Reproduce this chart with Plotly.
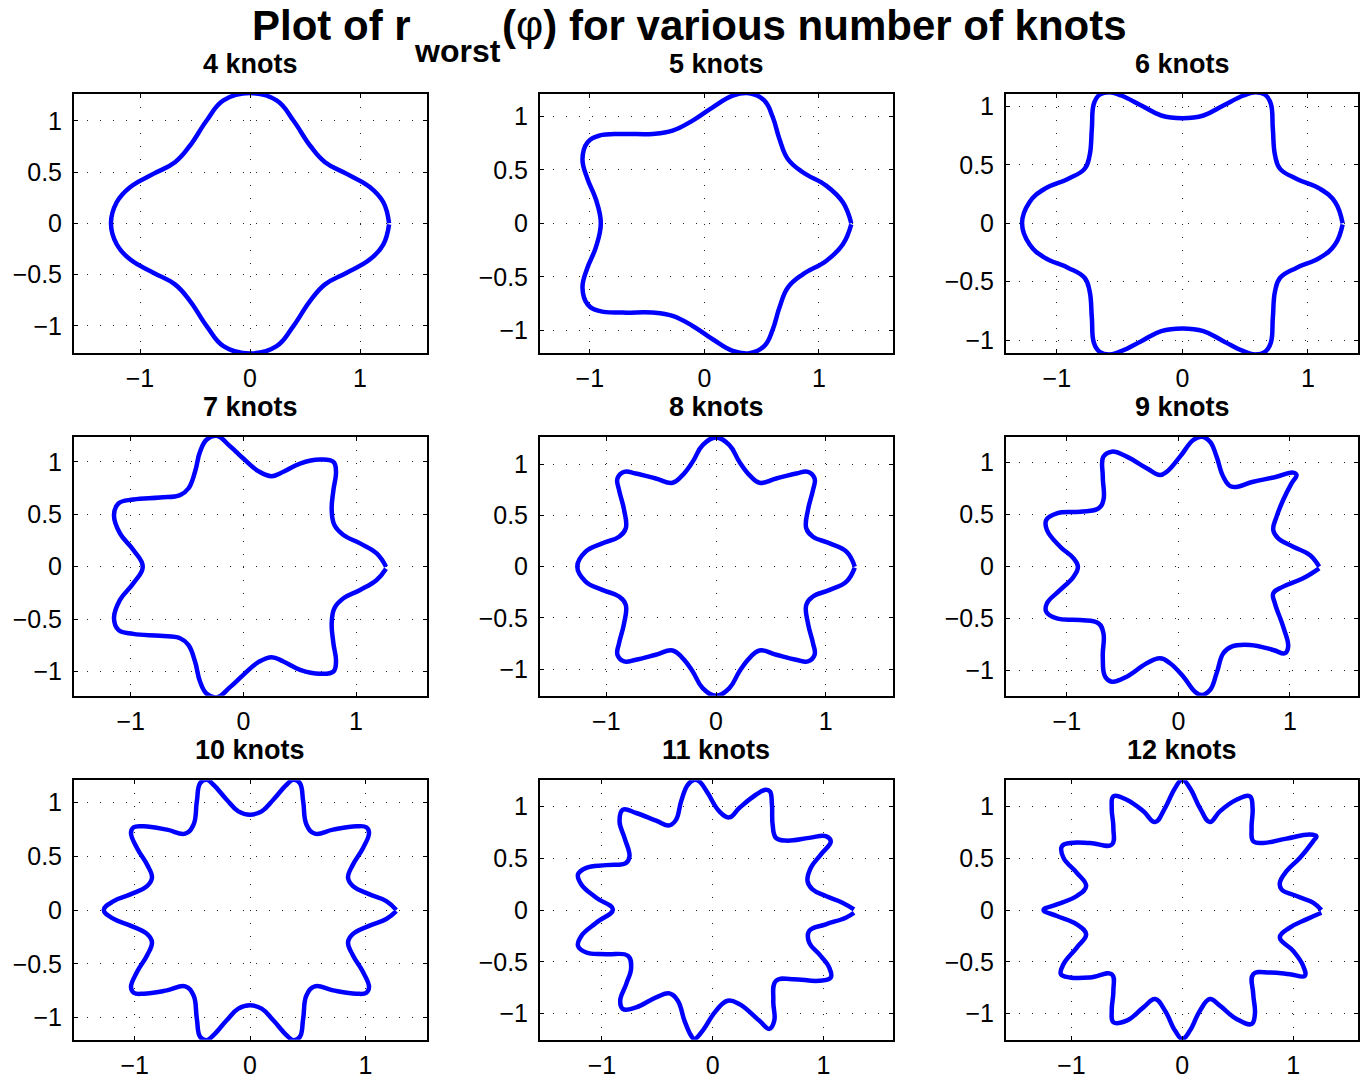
import plotly.graph_objects as go

FIG_W, FIG_H = 1368, 1082
FONT = "Liberation Sans, Arial, Helvetica, sans-serif"

# ---- traced r_worst(phi) curves, Cartesian samples going counter-clockwise ----
x4 = [1.264, 1.212, 1.091, 0.879, 0.682, 0.545, 0.394, 0.242, 0.0,
      -0.242, -0.394, -0.545, -0.682, -0.879, -1.091, -1.212, -1.264,
      -1.212, -1.091, -0.879, -0.682, -0.545, -0.394, -0.242, 0.0,
      0.242, 0.394, 0.545, 0.682, 0.879, 1.091, 1.212, 1.264]
y4 = [0.0, 0.205, 0.352, 0.482, 0.596, 0.759, 1.003, 1.199, 1.27,
      1.199, 1.003, 0.759, 0.596, 0.482, 0.352, 0.205, 0.0,
      -0.205, -0.352, -0.482, -0.596, -0.759, -1.003, -1.199, -1.27,
      -1.199, -1.003, -0.759, -0.596, -0.482, -0.352, -0.205, -0.01]

x5 = [1.283, 1.21, 1.064, 0.86, 0.729, 0.656, 0.598, 0.525, 0.394, 0.248, 0.073,
      -0.102, -0.277, -0.452, -0.714, -0.918, -1.02, -1.064, -1.02, -0.948, -0.904,
      -0.948, -1.02, -1.064, -1.02, -0.918, -0.714, -0.452, -0.277, -0.102, 0.073,
      0.248, 0.394, 0.525, 0.598, 0.656, 0.729, 0.86, 1.064, 1.21, 1.283]
y5 = [0.0, 0.196, 0.352, 0.477, 0.601, 0.788, 0.991, 1.146, 1.215, 1.193, 1.084,
      0.96, 0.866, 0.835, 0.835, 0.819, 0.757, 0.601, 0.414, 0.227, 0.0,
      -0.227, -0.414, -0.601, -0.757, -0.819, -0.835, -0.835, -0.866, -0.96, -1.084,
      -1.193, -1.215, -1.146, -0.991, -0.788, -0.601, -0.477, -0.352, -0.196, -0.01]

x6 = [1.277, 1.218, 1.098, 0.912, 0.779, 0.739, 0.721, 0.705, 0.66, 0.58, 0.487,
      0.327, 0.168, 0.0, -0.168, -0.327, -0.487, -0.58, -0.66, -0.705, -0.721,
      -0.739, -0.779, -0.912, -1.098, -1.218, -1.277,
      -1.218, -1.098, -0.912, -0.779, -0.739, -0.721, -0.705, -0.66, -0.58, -0.487,
      -0.327, -0.168, 0.0, 0.168, 0.327, 0.487, 0.58, 0.66, 0.705, 0.721,
      0.739, 0.779, 0.912, 1.098, 1.218, 1.277]
y6 = [0.0, 0.18, 0.294, 0.38, 0.466, 0.58, 0.809, 1.023, 1.1, 1.123, 1.094,
      1.009, 0.923, 0.9, 0.923, 1.009, 1.094, 1.123, 1.1, 1.023, 0.809,
      0.58, 0.466, 0.38, 0.294, 0.18, 0.0,
      -0.18, -0.294, -0.38, -0.466, -0.58, -0.809, -1.023, -1.1, -1.123, -1.094,
      -1.009, -0.923, -0.9, -0.923, -1.009, -1.094, -1.123, -1.1, -1.023, -0.809,
      -0.58, -0.466, -0.38, -0.294, -0.18, -0.01]

x7 = [1.266, 1.183, 1.036, 0.888, 0.808, 0.784, 0.799, 0.822, 0.799, 0.68, 0.503,
      0.355, 0.251, 0.133, 0.0, -0.118, -0.237, -0.325, -0.385, -0.429, -0.488,
      -0.562, -0.74, -0.976, -1.109, -1.148, -1.095, -0.976, -0.893,
      -0.976, -1.095, -1.148, -1.109, -0.976, -0.74, -0.562, -0.488, -0.429, -0.385,
      -0.325, -0.237, -0.118, 0.0, 0.133, 0.251, 0.355, 0.503, 0.68, 0.799,
      0.822, 0.799, 0.784, 0.808, 0.888, 1.036, 1.183, 1.266]
y7 = [0.0, 0.127, 0.222, 0.302, 0.397, 0.54, 0.73, 0.905, 1.0, 1.022, 0.984,
      0.905, 0.863, 0.911, 1.032, 1.149, 1.248, 1.213, 1.095, 0.905, 0.746,
      0.683, 0.66, 0.641, 0.603, 0.492, 0.317, 0.159, 0.0,
      -0.159, -0.317, -0.492, -0.603, -0.641, -0.66, -0.683, -0.746, -0.905, -1.095,
      -1.213, -1.248, -1.149, -1.032, -0.911, -0.863, -0.905, -0.984, -1.022, -1.0,
      -0.905, -0.73, -0.54, -0.397, -0.302, -0.222, -0.127, -0.02]

x8 = [1.265, 1.189, 1.037, 0.884, 0.823, 0.838, 0.884, 0.899, 0.838, 0.732, 0.549,
      0.396, 0.305, 0.213, 0.122, 0.0, -0.122, -0.213, -0.305, -0.396, -0.549,
      -0.732, -0.838, -0.899, -0.884, -0.838, -0.823, -0.884, -1.037, -1.189, -1.265,
      -1.189, -1.037, -0.884, -0.823, -0.838, -0.884, -0.899, -0.838, -0.732, -0.549,
      -0.396, -0.305, -0.213, -0.122, 0.0, 0.122, 0.213, 0.305, 0.396, 0.549,
      0.732, 0.838, 0.899, 0.884, 0.838, 0.823, 0.884, 1.037, 1.189, 1.265]
y8 = [0.0, 0.146, 0.227, 0.292, 0.373, 0.552, 0.747, 0.86, 0.925, 0.909, 0.86,
      0.818, 0.893, 1.023, 1.185, 1.26, 1.185, 1.023, 0.893, 0.818, 0.86,
      0.909, 0.925, 0.86, 0.747, 0.552, 0.373, 0.292, 0.227, 0.146, 0.0,
      -0.146, -0.227, -0.292, -0.373, -0.552, -0.747, -0.86, -0.925, -0.909, -0.86,
      -0.818, -0.893, -1.023, -1.185, -1.26, -1.185, -1.023, -0.893, -0.818, -0.86,
      -0.909, -0.925, -0.86, -0.747, -0.552, -0.373, -0.292, -0.227, -0.146, -0.01]

x9 = [1.263, 1.179, 1.03, 0.896, 0.851, 0.881, 0.94, 1.015, 1.06, 1.03, 0.881,
      0.672, 0.478, 0.403, 0.343, 0.284, 0.209, 0.134, 0.015, -0.104, -0.164,
      -0.284, -0.463, -0.597, -0.672, -0.678, -0.672, -0.716, -0.881, -1.09, -1.185,
      -1.179, -1.06, -0.94, -0.901,
      -0.94, -1.06, -1.179, -1.185, -1.09, -0.881, -0.716, -0.672, -0.678, -0.657,
      -0.597, -0.463, -0.284, -0.164, -0.075, 0.045, 0.149, 0.209, 0.284, 0.343,
      0.403, 0.478, 0.642, 0.851, 0.955, 0.985, 0.94, 0.866, 0.851, 0.94,
      1.119, 1.263]
y9 = [0.0, 0.112, 0.192, 0.272, 0.353, 0.481, 0.641, 0.801, 0.881, 0.904, 0.865,
      0.817, 0.769, 0.865, 1.058, 1.202, 1.25, 1.218, 1.058, 0.913, 0.881,
      0.946, 1.058, 1.106, 1.058, 0.865, 0.641, 0.561, 0.529, 0.513, 0.449,
      0.353, 0.192, 0.08, 0.0,
      -0.096, -0.224, -0.353, -0.433, -0.497, -0.513, -0.545, -0.641, -0.865, -1.058,
      -1.106, -1.058, -0.929, -0.881, -0.929, -1.058, -1.202, -1.234, -1.186, -1.026,
      -0.833, -0.769, -0.753, -0.801, -0.833, -0.769, -0.577, -0.353, -0.256, -0.192,
      -0.112, -0.016]

x10 = [1.268, 1.182, 1.037, 0.893, 0.85, 0.893, 0.98, 1.032, 1.009, 0.922, 0.72,
       0.562, 0.49, 0.461, 0.432, 0.375, 0.317, 0.202, 0.101, 0.0, -0.101,
       -0.202, -0.317, -0.375, -0.432, -0.461, -0.49, -0.562, -0.72, -0.922, -1.009,
       -1.032, -0.98, -0.893, -0.85, -0.893, -1.037, -1.182, -1.268,
       -1.182, -1.037, -0.893, -0.85, -0.893, -0.98, -1.032, -1.009, -0.922, -0.72,
       -0.562, -0.49, -0.461, -0.432, -0.375, -0.317, -0.202, -0.101, 0.0, 0.101,
       0.202, 0.317, 0.375, 0.432, 0.461, 0.49, 0.562, 0.72, 0.922, 1.009,
       1.032, 0.98, 0.893, 0.85, 0.893, 1.037, 1.182, 1.268]
y10 = [0.0, 0.083, 0.145, 0.222, 0.299, 0.423, 0.577, 0.716, 0.769, 0.778, 0.747,
       0.71, 0.793, 1.009, 1.179, 1.21, 1.164, 1.025, 0.917, 0.886, 0.917,
       1.025, 1.164, 1.21, 1.179, 1.009, 0.793, 0.71, 0.747, 0.778, 0.769,
       0.716, 0.577, 0.423, 0.299, 0.222, 0.145, 0.083, 0.0,
       -0.083, -0.145, -0.222, -0.299, -0.423, -0.577, -0.716, -0.769, -0.778, -0.747,
       -0.71, -0.793, -1.009, -1.179, -1.21, -1.164, -1.025, -0.917, -0.886, -0.917,
       -1.025, -1.164, -1.21, -1.179, -1.009, -0.793, -0.71, -0.747, -0.778, -0.769,
       -0.716, -0.577, -0.423, -0.299, -0.222, -0.145, -0.083, -0.01]

x11 = [1.276, 1.171, 1.021, 0.901, 0.856, 0.886, 0.976, 1.066, 1.021, 0.871, 0.661,
       0.571, 0.541, 0.535, 0.517, 0.48, 0.39, 0.24, 0.15, 0.06, -0.045,
       -0.12, -0.165, -0.225, -0.285, -0.33, -0.39, -0.511, -0.691, -0.811, -0.841,
       -0.796, -0.751, -0.781, -0.961, -1.141, -1.216, -1.186, -1.051, -0.901,
       -1.051, -1.186, -1.216, -1.141, -0.961, -0.766, -0.736, -0.781, -0.835, -0.811,
       -0.691, -0.511, -0.39, -0.315, -0.255, -0.195, -0.165, -0.09, 0.03, 0.135,
       0.24, 0.42, 0.511, 0.556, 0.547, 0.571, 0.721, 0.961, 1.066, 1.051,
       0.961, 0.871, 0.871, 1.021, 1.201, 1.276]
y11 = [0.006, 0.071, 0.135, 0.199, 0.279, 0.407, 0.535, 0.663, 0.712, 0.696, 0.67,
       0.696, 0.824, 1.016, 1.144, 1.16, 1.112, 0.984, 0.894, 0.952, 1.128,
       1.24, 1.256, 1.208, 1.048, 0.872, 0.817, 0.862, 0.936, 0.968, 0.856,
       0.696, 0.519, 0.455, 0.433, 0.407, 0.343, 0.247, 0.119, 0.006,
       -0.122, -0.25, -0.346, -0.41, -0.426, -0.442, -0.554, -0.715, -0.875, -0.955,
       -0.939, -0.843, -0.804, -0.875, -1.067, -1.212, -1.244, -1.163, -0.971, -0.875,
       -0.907, -1.067, -1.147, -1.067, -0.875, -0.683, -0.667, -0.683, -0.651, -0.554,
       -0.426, -0.314, -0.202, -0.138, -0.074, -0.026]

x12 = [1.255, 1.18, 1.03, 0.895, 0.88, 0.94, 1.06, 1.18, 1.21, 1.15, 0.94,
       0.73, 0.64, 0.625, 0.634, 0.61, 0.489, 0.339, 0.249, 0.159, 0.069,
       0.0, -0.066, -0.156, -0.246, -0.351, -0.502, -0.622, -0.637, -0.622, -0.637,
       -0.832, -1.012, -1.087, -1.072, -0.952, -0.868, -0.952, -1.132, -1.252,
       -1.132, -0.952, -0.868, -0.952, -1.072, -1.096, -1.012, -0.832, -0.637, -0.622,
       -0.637, -0.622, -0.502, -0.351, -0.246, -0.156, -0.066, 0.0, 0.069, 0.159,
       0.249, 0.339, 0.489, 0.625, 0.655, 0.64, 0.64, 0.79, 0.97, 1.105,
       1.09, 1.0, 0.88, 0.97, 1.12, 1.255]
y12 = [0.0, 0.071, 0.135, 0.199, 0.263, 0.375, 0.503, 0.663, 0.712, 0.728, 0.689,
       0.647, 0.663, 0.792, 0.984, 1.096, 1.064, 0.952, 0.849, 0.984, 1.176,
       1.256, 1.176, 0.984, 0.849, 0.952, 1.064, 1.096, 0.984, 0.792, 0.631,
       0.647, 0.647, 0.615, 0.503, 0.359, 0.231, 0.135, 0.054, 0.0,
       -0.058, -0.138, -0.234, -0.362, -0.522, -0.619, -0.651, -0.651, -0.619, -0.779,
       -0.971, -1.083, -1.067, -0.939, -0.859, -0.971, -1.163, -1.244, -1.163, -0.971,
       -0.859, -0.923, -1.051, -1.099, -1.003, -0.811, -0.619, -0.603, -0.619, -0.635,
       -0.538, -0.394, -0.266, -0.17, -0.09, -0.026]

knot_counts = [4, 5, 6, 7, 8, 9, 10, 11, 12]
curves = {4: (x4, y4), 5: (x5, y5), 6: (x6, y6), 7: (x7, y7), 8: (x8, y8),
          9: (x9, y9), 10: (x10, y10), 11: (x11, y11), 12: (x12, y12)}

# axis limits of every panel
x_limits = {4: (-1.600, 1.606), 5: (-1.435, 1.645), 6: (-1.405, 1.402),
            7: (-1.503, 1.627), 8: (-1.605, 1.611), 9: (-1.546, 1.614),
            10: (-1.526, 1.532), 11: (-1.559, 1.625), 12: (-1.591, 1.588)}
y_limits = {4: (-1.266, 1.266), 5: (-1.213, 1.213), 6: (-1.111, 1.111),
            7: (-1.231, 1.238), 8: (-1.260, 1.266), 9: (-1.241, 1.248),
            10: (-1.206, 1.206), 11: (-1.252, 1.252), 12: (-1.252, 1.252)}

x_ticks = [-1, 0, 1]
x_tick_text = ["\u22121", "0", "1"]
y_ticks = [-1, -0.5, 0, 0.5, 1]
y_tick_text = ["\u22121", "\u22120.5", "0", "0.5", "1"]

# panel boxes in pixels (left, right) / (top, bottom)
col_px = [(74.0, 426.7), (540.0, 892.7), (1006.0, 1358.3)]
row_px = [(92.7, 352.7), (436.7, 696.0), (780.7, 1040.7)]

fig = go.Figure()
annotations = []

axis_style = dict(
    showline=True, linecolor="black", linewidth=2, mirror="ticks",
    ticks="inside", ticklen=4, tickwidth=1, tickcolor="black",
    showgrid=True, gridcolor="#222222", gridwidth=1, griddash="1px,12px",
    zeroline=False, fixedrange=True,
    tickfont=dict(family=FONT, size=25, color="black"),
)

for i, n in enumerate(knot_counts):
    row, col = divmod(i, 3)
    suffix = "" if i == 0 else str(i + 1)
    xs, ys = curves[n]
    fig.add_trace(go.Scatter(
        x=xs, y=ys, mode="lines",
        line=dict(color="#0000ff", width=4.5, shape="spline", smoothing=1.2),
        xaxis="x" + suffix, yaxis="y" + suffix,
        showlegend=False, hoverinfo="skip",
    ))
    left, right = col_px[col]
    top, bottom = row_px[row]
    fig.update_layout(**{
        "xaxis" + suffix: dict(
            domain=[left / FIG_W, right / FIG_W], range=list(x_limits[n]),
            tickvals=x_ticks, ticktext=x_tick_text, anchor="y" + suffix,
            ticklabelstandoff=2, **axis_style),
        "yaxis" + suffix: dict(
            domain=[1 - bottom / FIG_H, 1 - top / FIG_H], range=list(y_limits[n]),
            tickvals=y_ticks, ticktext=y_tick_text, anchor="x" + suffix,
            ticklabelstandoff=5, **axis_style),
    })
    annotations.append(dict(
        text=f"<b>{n} knots</b>", xref="paper", yref="paper",
        x=(left + right) / 2 / FIG_W, y=1 - (top - 30) / FIG_H,
        xanchor="center", yanchor="middle", showarrow=False,
        font=dict(family=FONT, size=27, color="black"),
    ))

# figure title, assembled from three pieces so the subscript can sit low
TITLE_SIZE, SUB_SIZE = 42, 32
title_split_px = 412      # right edge of "Plot of r"
sub_width_px = 88         # width of the "worst" subscript
annotations += [
    dict(text="<b>Plot of r</b>", xref="paper", yref="paper",
         x=title_split_px / FIG_W, y=1.0, xanchor="right", yanchor="top",
         showarrow=False, borderpad=0,
         font=dict(family=FONT, size=TITLE_SIZE, color="black")),
    dict(text="<b>worst</b>", xref="paper", yref="paper",
         x=(title_split_px + 1) / FIG_W, y=1 - 31 / FIG_H,
         xanchor="left", yanchor="top", showarrow=False, borderpad=0,
         font=dict(family=FONT, size=SUB_SIZE, color="black")),
    dict(text="<b>(</b>\u03c6<b>) for various number of knots</b>",
         xref="paper", yref="paper",
         x=(title_split_px + 1 + sub_width_px) / FIG_W, y=1.0,
         xanchor="left", yanchor="top", showarrow=False, borderpad=0,
         font=dict(family=FONT, size=TITLE_SIZE, color="black")),
]

fig.update_layout(
    width=FIG_W, height=FIG_H,
    margin=dict(l=0, r=0, t=0, b=0),
    paper_bgcolor="white", plot_bgcolor="white",
    annotations=annotations,
)

fig.write_html("out.html")
